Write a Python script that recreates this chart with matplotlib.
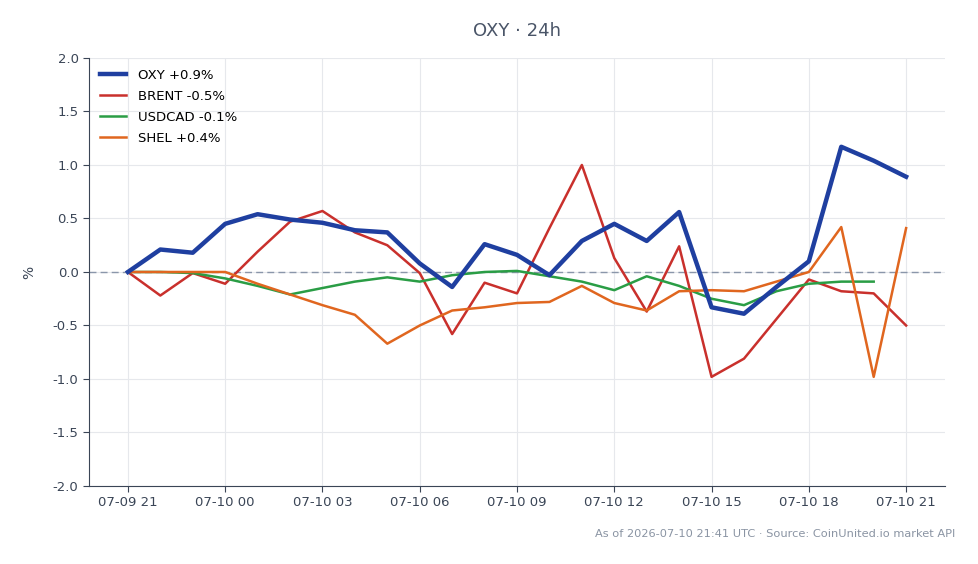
import pandas as pd
import matplotlib
matplotlib.use('Agg')
import matplotlib.pyplot as plt
import matplotlib.dates as mdates
import numpy as np

# hourly timestamps, 24h window
times = pd.date_range('2026-07-09 21:00', '2026-07-10 21:00', freq='h')

oxy = [0.0, 0.21, 0.18, 0.45, 0.54, 0.49, 0.46, 0.39, 0.37, 0.08, -0.14, 0.26, 0.16,
       -0.03, 0.29, 0.45, 0.29, 0.56, -0.33, -0.39, -0.14, 0.10, 1.17, 1.04, 0.89]
brent = [0.0, -0.22, -0.01, -0.11, 0.19, 0.47, 0.57, 0.37, 0.25, -0.01, -0.58, -0.10, -0.20,
         0.41, 1.0, 0.13, -0.37, 0.24, -0.98, -0.81, -0.44, -0.07, -0.18, -0.20, -0.50]
usdcad = [0.0, 0.0, -0.01, -0.06, -0.13, -0.21, -0.15, -0.09, -0.05, -0.09, -0.03, 0.0, 0.01,
          -0.04, -0.09, -0.17, -0.04, -0.13, -0.25, -0.31, -0.18, -0.11, -0.09, -0.09, np.nan]
shel = [0.0, 0.0, 0.0, 0.0, -0.11, -0.21, -0.31, -0.40, -0.67, -0.50, -0.36, -0.33, -0.29,
        -0.28, -0.13, -0.29, -0.36, -0.18, -0.17, -0.18, -0.09, 0.0, 0.42, -0.98, 0.41]

labels = ['OXY +0.9%', 'BRENT -0.5%', 'USDCAD -0.1%', 'SHEL +0.4%']
colors = ['#1f3fa0', '#c9302c', '#2a9d45', '#e0661f']

fig = plt.figure(figsize=(9.79, 5.64), dpi=100)
ax = fig.add_axes([0.0909, 0.1383, 0.8744, 0.7589])

ax.plot(times, oxy, color=colors[0], lw=3.2, label=labels[0], zorder=5)
ax.plot(times, brent, color=colors[1], lw=1.8, label=labels[1], zorder=4)
ax.plot(times, usdcad, color=colors[2], lw=1.8, label=labels[2], zorder=4)
ax.plot(times, shel, color=colors[3], lw=1.8, label=labels[3], zorder=4)

ax.axhline(0, color='#8a96aa', lw=1, ls=(0, (5, 3)), zorder=2)

ax.set_ylim(-2.0, 2.0)
ax.set_yticks(np.arange(-2.0, 2.01, 0.5))
ax.yaxis.set_major_formatter(plt.FormatStrFormatter('%.1f'))
ax.xaxis.set_major_locator(mdates.HourLocator(byhour=[0, 3, 6, 9, 12, 15, 18, 21]))
ax.xaxis.set_major_formatter(mdates.DateFormatter('%m-%d %H'))

ax.grid(True, color='#e6e8ec', lw=0.8)
ax.set_axisbelow(True)
for s in ['top', 'right']:
    ax.spines[s].set_visible(False)
for s in ['left', 'bottom']:
    ax.spines[s].set_color('#3a4556')
ax.tick_params(colors='#3a4556', labelsize=9.5, length=4)

ax.set_ylabel('%', color='#3a4556', fontsize=10, labelpad=12)
ax.set_title('OXY · 24h', color='#4a5568', fontsize=13, pad=16)

ax.legend(loc='upper left', frameon=False, fontsize=9.5, handlelength=2.0,
          borderaxespad=0.4, labelspacing=0.62, handletextpad=0.9)

fig.text(0.976, 0.053, 'As of 2026-07-10 21:41 UTC · Source: CoinUnited.io market API',
         ha='right', va='center', color='#8a94a3', fontsize=8.2)

fig.savefig('out.png', dpi=100)
